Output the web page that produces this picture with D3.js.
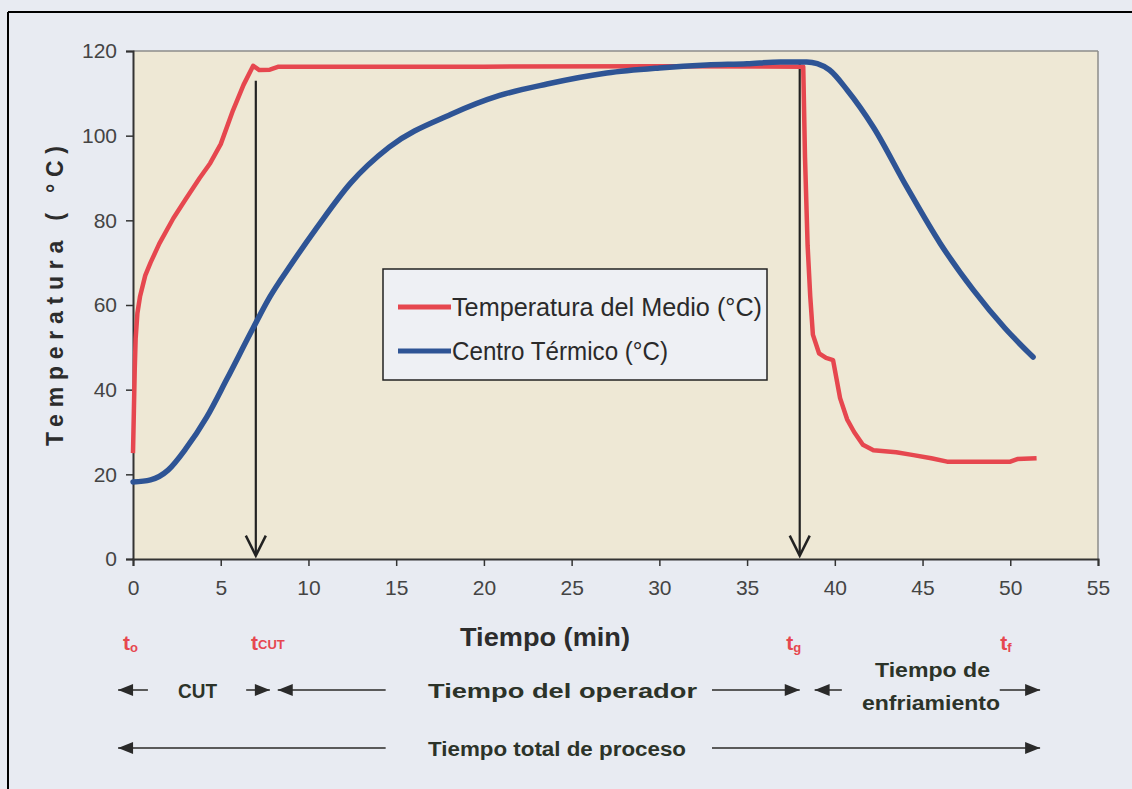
<!DOCTYPE html>
<html><head><meta charset="utf-8">
<script src="https://cdn.jsdelivr.net/npm/d3@7"></script>
<style>html,body{margin:0;padding:0;background:#e7eaf1;} svg{display:block}</style>
</head><body><svg id="c" width="1132" height="789"></svg>
<script>
// ---- data ----
const xTicks = [0,5,10,15,20,25,30,35,40,45,50,55];
const yTicks = [0,20,40,60,80,100,120];
const seriesNames = ["Temperatura del Medio (°C)", "Centro Térmico (°C)"];
const tiempoMedio = [0,0.05,0.1,0.15,0.25,0.4,0.7,1.0,1.5,2.3,3.0,3.8,4.4,5.0,5.7,6.3,6.85,7.2,7.8,8.3,20,30,38.2,38.3,38.45,38.6,38.75,39.1,39.5,39.9,40.3,40.7,41.1,41.6,42.2,43.5,44.4,45.5,46.4,48,50,50.4,51.5];
const tempMedio   = [25,35,45,52,58,62,67,70,74.5,80.5,85,90,93.5,98,106,112,116.5,115.5,115.6,116.3,116.3,116.4,116.3,95,74,62,53,48.6,47.5,47,38,33,30,27,25.7,25.2,24.6,23.8,23,23,23,23.6,23.8];
const tiempoCentro = [0,1,2,3,4.2,5.35,6.84,7.8,9.0,10.5,12.4,14.6,18.1,20.9,23.6,27,30,32.7,35,36.9,38.4,39.0,39.7,40.7,42.2,44.1,46.0,47.9,49.7,51.3];
const tempCentro   = [18.2,18.7,21,26,33.5,42.5,54.5,61.9,69.5,78.4,88.8,97.3,105.0,109.5,112.2,114.8,116,116.7,117,117.4,117.4,117,115.5,110.8,102,87.9,74.6,63.5,54.5,47.7];
// vertical marker arrows (minutes, top temp)
const markerTimes = [7, 38];
const markerTops  = [113, 117.4];
// time-point labels
const tLabels = [{b:"t",s:"o",t:0},{b:"t",s:"CUT",t:7.3},{b:"t",s:"g",t:37.8},{b:"t",s:"f",t:50}];
// bottom annotations (minutes)
const row1Arrows = [[-0.85,0.85,"left"],[6.45,7.8,"right"],[8.25,14.4,"left"],[33,38,"right"],[38.85,40.4,"left"],[49.4,51.7,"right"]];
const row2Arrows = [[-0.85,14.4,"left"],[33,51.7,"right"]];

const svg = d3.select("#c");
const W=1132,H=789;
const m={l:133,t:51,r:1098,b:559};
const x = d3.scaleLinear().domain([0,55]).range([m.l,m.r]);
const y = d3.scaleLinear().domain([0,120]).range([m.b,m.t]);
const RED="#e6474f", BLUE="#2e5495", TXT="#2c3329";
const NARROW="'Liberation Sans Narrow','Arial Narrow','Liberation Sans',Arial,sans-serif";
const SANS="'Liberation Sans',Arial,sans-serif";

// frame of photo
svg.append("rect").attr("width",W).attr("height",H).attr("fill","#e8ebf2");
svg.append("line").attr("x1",8).attr("x2",W).attr("y1",12).attr("y2",12).attr("stroke","#000").attr("stroke-width",2);
svg.append("line").attr("x1",8).attr("x2",8).attr("y1",12).attr("y2",H).attr("stroke","#000").attr("stroke-width",2);

// plot area
svg.append("rect").attr("x",m.l).attr("y",m.t).attr("width",m.r-m.l).attr("height",m.b-m.t).attr("fill","#eee8d5");
svg.append("line").attr("x1",m.l).attr("x2",m.r).attr("y1",m.t).attr("y2",m.t).attr("stroke","#8d8d8a").attr("stroke-width",1.5);
svg.append("line").attr("x1",m.r).attr("x2",m.r).attr("y1",m.t).attr("y2",m.b).attr("stroke","#8d8d8a").attr("stroke-width",1.5);

// axes
const yAx = svg.append("g").attr("transform",`translate(${m.l},0)`).call(d3.axisLeft(y).tickValues(yTicks).tickSize(7).tickPadding(9));
const xAx = svg.append("g").attr("transform",`translate(0,${m.b})`).call(d3.axisBottom(x).tickValues(xTicks).tickSize(7).tickPadding(14));
[yAx,xAx].forEach(g=>{
  g.select(".domain").attr("stroke","#333").attr("stroke-width",2);
  g.selectAll(".tick line").attr("stroke","#333").attr("stroke-width",1.5);
  g.selectAll(".tick text").attr("fill","#444").attr("font-family",SANS).attr("font-size",21);
});

// lines
const lineMedio = d3.line().x((d,i)=>x(tiempoMedio[i])).y(d=>y(d)).curve(d3.curveLinear);
const lineCentro = d3.line().x((d,i)=>x(tiempoCentro[i])).y(d=>y(d)).curve(d3.curveMonotoneX);

// marker arrows
markerTimes.forEach((t,i)=>{
  const g=svg.append("g").attr("stroke","#222").attr("fill","none").attr("stroke-width",2.2);
  g.append("line").attr("x1",x(t)).attr("x2",x(t)).attr("y1",y(markerTops[i])).attr("y2",y(0.8));
  g.append("polyline").attr("points",`${x(t)-10},${y(0.8)-20} ${x(t)},${y(0.8)} ${x(t)+10},${y(0.8)-20}`).attr("stroke-width",2.5);
});

svg.append("path").attr("d",lineMedio(tempMedio)).attr("fill","none").attr("stroke",RED).attr("stroke-width",4.5).attr("stroke-linejoin","round");
svg.append("path").attr("d",lineCentro(tempCentro)).attr("fill","none").attr("stroke",BLUE).attr("stroke-width",5.5).attr("stroke-linejoin","round").attr("stroke-linecap","round");

// legend
const lg = svg.append("g");
lg.append("rect").attr("x",383).attr("y",269).attr("width",384).attr("height",111).attr("fill","#eef0f4").attr("stroke","#222").attr("stroke-width",1.5);
[[RED,307,310],[BLUE,351,216]].forEach((c,i)=>{
  lg.append("line").attr("x1",398).attr("x2",451).attr("y1",c[1]).attr("y2",c[1]).attr("stroke",c[0]).attr("stroke-width",5);
  lg.append("text").attr("x",452).attr("y",c[1]+9).attr("font-family",NARROW).attr("font-size",25).attr("fill","#2a2a2a")
    .attr("textLength",c[2]).attr("lengthAdjust","spacingAndGlyphs").text(seriesNames[i]);
});

// axis titles
svg.append("text").attr("transform","translate(63,296) rotate(-90)").attr("text-anchor","middle")
  .attr("font-family",SANS).attr("font-weight","bold").attr("font-size",23).attr("fill","#2c2c2c")
  .attr("textLength",300).attr("lengthAdjust","spacing").text("Temperatura ( °C)");
svg.append("text").attr("x",545).attr("y",646).attr("text-anchor","middle")
  .attr("font-family",SANS).attr("font-weight","bold").attr("font-size",25).attr("fill","#2c2c2c")
  .attr("textLength",170).attr("lengthAdjust","spacingAndGlyphs").text("Tiempo (min)");

// red time labels
tLabels.forEach(d=>{
  const tx=svg.append("text").attr("x",x(d.t)-10).attr("y",650).attr("font-family",NARROW).attr("font-weight","bold").attr("fill",RED).attr("font-size",21);
  tx.append("tspan").text(d.b);
  tx.append("tspan").attr("font-size",d.s==="CUT"?13:13).attr("dy",d.s==="CUT"?-1:2).text(d.s);
});

// bottom annotations
function arrow(x1,x2,yy,dir){
  const g=svg.append("g");
  const a=x(x1), b=x(x2);
  g.append("line").attr("x1",a).attr("x2",b).attr("y1",yy).attr("y2",yy).attr("stroke","#5a5a5a").attr("stroke-width",2);
  const tip = dir==="left"?a:b, s = dir==="left"?1:-1;
  g.append("path").attr("d",`M${tip},${yy} L${tip+s*15},${yy-6} L${tip+s*15},${yy+6} Z`).attr("fill","#2a2a2a");
}
row1Arrows.forEach(r=>arrow(r[0],r[1],690,r[2]));
row2Arrows.forEach(r=>arrow(r[0],r[1],748,r[2]));
function btext(s,xx,yy,len){
  svg.append("text").attr("x",xx).attr("y",yy).attr("font-family",NARROW).attr("font-weight","bold").attr("font-size",20)
    .attr("fill",TXT).attr("textLength",len).attr("lengthAdjust","spacingAndGlyphs").text(s);
}
btext("CUT",178,698,39);
btext("Tiempo del operador",428,698,269);
btext("Tiempo de",875,677,115);
btext("enfriamiento",862,710,138);
btext("Tiempo total de proceso",428,756,258);
</script></body></html>
